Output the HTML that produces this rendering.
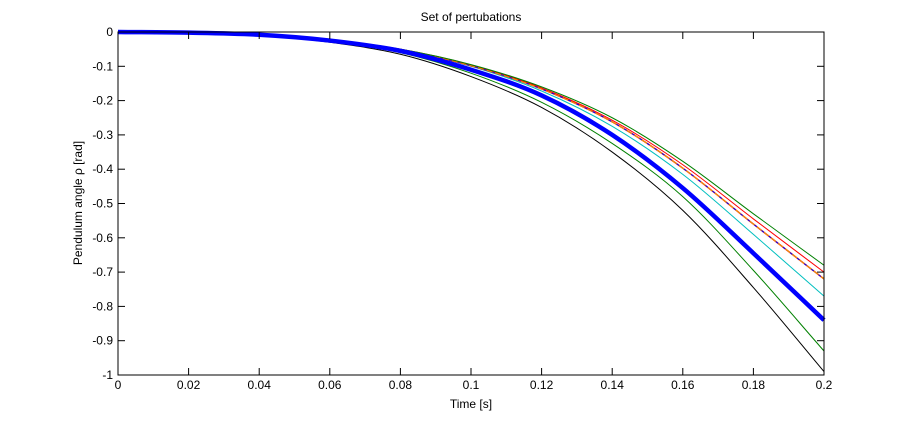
<!DOCTYPE html>
<html><head><meta charset="utf-8"><style>
body{margin:0;background:#fff;}
svg text{font-family:"Liberation Sans",sans-serif;font-size:12px;fill:#000;}
</style></head><body>
<svg id="chart" width="910" height="420">
<rect x="0" y="0" width="910" height="420" fill="#fff"/>
<rect x="118" y="32" width="706" height="343" fill="#fff" stroke="none"/>
<g id="series"></g>
<g id="axes"></g>
<text x="471" y="21" text-anchor="middle" font-size="11">Set of pertubations</text>
<text x="471" y="408" text-anchor="middle">Time [s]</text>
<text x="82" y="203" text-anchor="middle" transform="rotate(-90 82 203)">Pendulum angle ρ [rad]</text>
</svg>
<script>
const times=[0,0.02,0.04,0.06,0.08,0.1,0.12,0.14,0.16,0.18,0.2];
const blackSeries=[0,-0.002,-0.009,-0.03,-0.065,-0.13,-0.22,-0.35,-0.52,-0.745,-0.99];
const greenLow=[0,-0.002,-0.008,-0.028,-0.06,-0.12,-0.205,-0.325,-0.48,-0.695,-0.93];
const blueMain=[0,-0.002,-0.008,-0.025,-0.055,-0.11,-0.185,-0.30,-0.455,-0.645,-0.84];
const cyanSeries=[0,-0.002,-0.007,-0.024,-0.052,-0.10,-0.172,-0.275,-0.415,-0.59,-0.77];
const orangeSeries=[0,-0.002,-0.007,-0.023,-0.051,-0.098,-0.166,-0.262,-0.397,-0.56,-0.72];
const redSeries=[0,-0.002,-0.007,-0.023,-0.05,-0.096,-0.163,-0.257,-0.387,-0.545,-0.70];
const greenHigh=[0,-0.002,-0.007,-0.022,-0.05,-0.095,-0.16,-0.25,-0.377,-0.53,-0.68];
const xTicks=[0,0.02,0.04,0.06,0.08,0.1,0.12,0.14,0.16,0.18,0.2];
const xTickLabels=["0","0.02","0.04","0.06","0.08","0.1","0.12","0.14","0.16","0.18","0.2"];
const yTicks=[0,-0.1,-0.2,-0.3,-0.4,-0.5,-0.6,-0.7,-0.8,-0.9,-1];
const yTickLabels=["0","-0.1","-0.2","-0.3","-0.4","-0.5","-0.6","-0.7","-0.8","-0.9","-1"];
const L=118,R=824,T=32,B=375;
const xs=v=>L+(v-0)/(0.2)*(R-L);
const ys=v=>T+(0-v)/1*(B-T);
const NS="http://www.w3.org/2000/svg";
const sg=document.getElementById('series');
function smoothPath(pts){
  let d='M'+pts[0][0]+','+pts[0][1];
  const n=pts.length;
  for(let i=0;i<n-1;i++){
    const p1=pts[i],p2=pts[i+1];
    const p0=i>0?pts[i-1]:[2*p1[0]-p2[0],2*p1[1]-p2[1]];
    const p3=i+2<n?pts[i+2]:[2*p2[0]-p1[0],2*p2[1]-p1[1]];
    const c1x=p1[0]+(p2[0]-p0[0])/6,c1y=p1[1]+(p2[1]-p0[1])/6;
    const c2x=p2[0]-(p3[0]-p1[0])/6,c2y=p2[1]-(p3[1]-p1[1])/6;
    d+=' C'+c1x+','+c1y+' '+c2x+','+c2y+' '+p2[0]+','+p2[1];
  }
  return d;
}
function line(vals,color,w,name,dash){
  const p=document.createElementNS(NS,'path');
  p.setAttribute('d',smoothPath(vals.map((v,i)=>[xs(times[i]),ys(v)])));
  p.setAttribute('fill','none');p.setAttribute('stroke',color);p.setAttribute('stroke-width',w);
  if(dash)p.setAttribute('stroke-dasharray',dash);
  
  
  sg.appendChild(p);
}
line(blackSeries,'#000',1,'series-black');
line(greenLow,'#008000',1,'series-green-low');
line(cyanSeries,'#00bfbf',1,'series-cyan');
line(orangeSeries,'#ff0000',1.5,'series-orange');
line(orangeSeries,'#e0c000',0.8,'series-yellow');
line(orangeSeries,'#0000ff',1,'series-blue-dashed','3,6');
line(redSeries,'#ff0000',1,'series-red');
line(greenHigh,'#008000',1,'series-green-high');
line(blueMain,'#0000ff',4.5,'series-blue-main');
const ag=document.getElementById('axes');
const box=document.createElementNS(NS,'rect');
box.setAttribute('x',L);box.setAttribute('y',T);box.setAttribute('width',R-L);box.setAttribute('height',B-T);
box.setAttribute('fill','none');box.setAttribute('stroke','#000');box.setAttribute('stroke-width','1');


ag.appendChild(box);
function seg(x1,y1,x2,y2){const l=document.createElementNS(NS,'line');l.setAttribute('x1',x1);l.setAttribute('y1',y1);l.setAttribute('x2',x2);l.setAttribute('y2',y2);l.setAttribute('stroke','#000');


ag.appendChild(l);}
xTicks.forEach((v,i)=>{const x=xs(v);seg(x,B,x,B-7);seg(x,T,x,T+7);
  const t=document.createElementNS(NS,'text');t.setAttribute('x',x);t.setAttribute('y',B+14);t.setAttribute('text-anchor','middle');t.textContent=xTickLabels[i];
  
  
  ag.appendChild(t);});
yTicks.forEach((v,i)=>{const y=ys(v);seg(L,y,L+7,y);seg(R,y,R-7,y);
  const t=document.createElementNS(NS,'text');t.setAttribute('x',L-5);t.setAttribute('y',y+4);t.setAttribute('text-anchor','end');t.textContent=yTickLabels[i];
  
  
  ag.appendChild(t);});
</script>
</body></html>
